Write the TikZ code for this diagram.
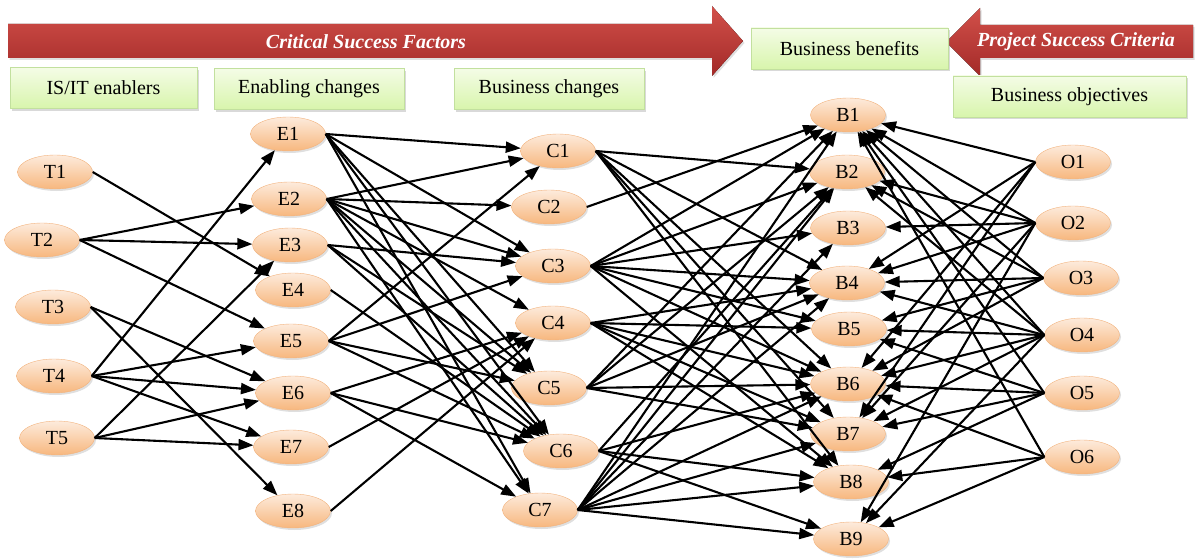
\documentclass[tikz,border=0pt]{standalone}
\usepackage{fontspec}
\setmainfont{Liberation Serif}
\usetikzlibrary{shapes.geometric,arrows.meta,shadows}

\definecolor{peachtop}{HTML}{FDEBDC}
\definecolor{peachbot}{HTML}{F7B77E}
\definecolor{peachline}{HTML}{F2B27C}
\definecolor{boxtop}{HTML}{F4FCE6}
\definecolor{boxbot}{HTML}{D8F5AC}
\definecolor{boxline}{HTML}{C2E09E}
\definecolor{bandtop}{HTML}{D2504A}
\definecolor{bandbot}{HTML}{A32A28}

\tikzset{
  oval/.style={ellipse,draw=peachline,top color=peachtop,bottom color=peachbot,
    minimum width=75pt,minimum height=34pt,inner sep=0pt,
    font=\fontsize{20}{22}\selectfont,
    drop shadow={shadow xshift=1.5pt,shadow yshift=-2pt,opacity=0.25}},
  tagbox/.style={rectangle,draw=boxline,top color=boxtop,bottom color=boxbot,
    minimum height=41pt,inner sep=0pt,
    font=\fontsize{20}{22}\selectfont,
    drop shadow={shadow xshift=2pt,shadow yshift=-2.5pt,opacity=0.3}},
  band/.style={top color=bandtop,bottom color=bandbot,draw=none,
    drop shadow={shadow xshift=1.5pt,shadow yshift=-2pt,opacity=0.25}},
  bandtext/.style={text=white,font=\fontsize{20}{22}\selectfont\bfseries\itshape},
  link/.style={-{Triangle[length=15pt,width=11pt]},line width=2.1pt}
}

\begin{document}
\begin{tikzpicture}[x=1pt,y=-1pt]
\useasboundingbox (0,0) rectangle (1196,559);

% banner arrows
\fill[band] (8,24) -- (712,24) -- (712,6) -- (743,41) -- (712,76) -- (712,58) -- (8,58) -- cycle;
\fill[band] (1193,25) -- (980,25) -- (980,8) -- (946,42) -- (980,76) -- (980,58) -- (1193,58) -- cycle;
\node[bandtext] (csf) at (366,42) {Critical Success Factors};
\node[bandtext] (psc) at (1076,42) {Project Success Criteria};

% column headings
\node[tagbox,minimum width=187pt] (isit) at (103.5,88) {IS/IT enablers};
\node[tagbox,minimum width=190pt] (enab) at (309,89) {Enabling changes};
\node[tagbox,minimum width=190pt] (bchg) at (549,89) {Business changes};
\node[tagbox,minimum width=197pt] (bben) at (849.5,48.5) {Business benefits};
\node[tagbox,minimum width=233pt] (bobj) at (1069.5,96.5) {Business objectives};

% IS/IT enablers
\node[oval] (T1) at (55,172) {T1};
\node[oval] (T2) at (42,240) {T2};
\node[oval] (T3) at (53,307) {T3};
\node[oval] (T4) at (54,376) {T4};
\node[oval] (T5) at (57,438) {T5};

% enabling changes
\node[oval] (E1) at (288,134) {E1};
\node[oval] (E2) at (289,199) {E2};
\node[oval] (E3) at (290,245) {E3};
\node[oval] (E4) at (293,290) {E4};
\node[oval] (E5) at (291,341) {E5};
\node[oval] (E6) at (293,393) {E6};
\node[oval] (E7) at (291,447) {E7};
\node[oval] (E8) at (293,511) {E8};

% business changes
\node[oval] (C1) at (558,151) {C1};
\node[oval] (C2) at (549,207) {C2};
\node[oval] (C3) at (553,266) {C3};
\node[oval] (C4) at (553,323) {C4};
\node[oval] (C5) at (549,388) {C5};
\node[oval] (C6) at (561,451) {C6};
\node[oval] (C7) at (540,510) {C7};

% business benefits
\node[oval] (B1) at (848,115) {B1};
\node[oval] (B2) at (847,172) {B2};
\node[oval] (B3) at (848,228) {B3};
\node[oval] (B4) at (847,283) {B4};
\node[oval] (B5) at (849,329) {B5};
\node[oval] (B6) at (848,384) {B6};
\node[oval] (B7) at (848,434) {B7};
\node[oval] (B8) at (851,482) {B8};
\node[oval] (B9) at (851,539) {B9};

% business objectives
\node[oval] (O1) at (1073,162) {O1};
\node[oval] (O2) at (1073,223) {O2};
\node[oval] (O3) at (1081,278) {O3};
\node[oval] (O4) at (1082,335) {O4};
\node[oval] (O5) at (1082,393) {O5};
\node[oval] (O6) at (1082,457) {O6};

% enablers -> enabling changes
\foreach \src/\dst in {T1/{E4},T2/{E2,E3,E5},T3/{E6,E8},T4/{E1,E5,E6,E7},T5/{E3,E6,E7}}
  \foreach \d in \dst \draw[link] (\src.east) -- (\d);

% enabling changes -> business changes
\foreach \src/\dst in {E1/{C1,C3,C5,C6,C7},E2/{C1,C2,C3,C4,C5,C6,C7},E3/{C3,C5,C6},
    E4/{C6},E5/{C1,C3,C5,C6},E6/{C4,C6,C7},E7/{C4},E8/{C4}}
  \foreach \d in \dst \draw[link] (\src.east) -- (\d);

% business changes -> benefits
\foreach \src/\dst in {C1/{B2,B4,B6,B7,B8},C2/{B1},C3/{B1,B2,B3,B4,B5,B6,B8},
    C4/{B4,B5,B6,B7,B8},C5/{B1,B2,B4,B6,B7},C6/{B2,B6,B8,B9},
    C7/{B1,B2,B3,B4,B6,B7,B8,B9}}
  \foreach \d in \dst \draw[link] (\src.east) -- (\d);

% objectives -> benefits
\foreach \src/\dst in {O1/{B1,B4,B6,B7},O2/{B1,B2,B3,B4,B7,B9},O3/{B1,B2,B4,B5,B6},
    O4/{B1,B2,B4,B5,B6,B7,B9},O5/{B1,B5,B6,B7,B8},O6/{B1,B6,B8,B9}}
  \foreach \d in \dst \draw[link] (\src.west) -- (\d);
\end{tikzpicture}
\end{document}
